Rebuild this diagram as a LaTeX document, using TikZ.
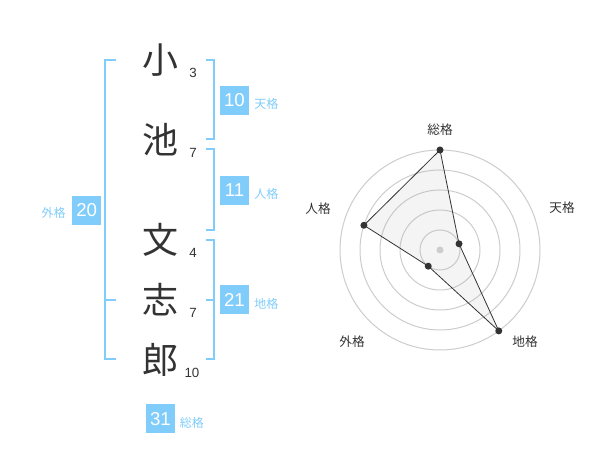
\documentclass[tikz,border=0pt]{standalone}
\usepackage{fontspec}
\setmainfont{Liberation Sans}
\newfontfamily\jp{Noto Sans CJK JP}
\usepackage{tikz}
\usetikzlibrary{positioning,calc}
\definecolor{kakublue}{HTML}{80CCFA}
\definecolor{ink}{HTML}{333333}
\tikzset{
  kanji/.style={inner sep=0pt,text=ink,font=\jp\fontsize{27}{27}\selectfont},
  strokes/.style={inner sep=0pt,text=ink,font=\fontsize{10}{10}\selectfont},
  kakubox/.style={fill=kakublue,text=white,inner sep=0pt,minimum size=21.75pt,font=\fontsize{14}{14}\selectfont},
  kakulabel/.style={inner sep=0pt,text=kakublue,font=\jp\fontsize{9}{9}\selectfont},
  bracket/.style={kakublue,line width=1.5pt},
  radarlabel/.style={inner sep=0pt,text=ink,font=\jp\fontsize{9.5}{9.5}\selectfont}
}
\begin{document}
\begin{tikzpicture}[x=0.75pt,y=0.75pt]
\useasboundingbox (0,0) rectangle (600,470);

% name
\node[kanji] (k1) at (160,410) {小};
\node[kanji] (k2) at (160,330) {池};
\node[kanji] (k3) at (160,230) {文};
\node[kanji] (k4) at (160,170) {志};
\node[kanji] (k5) at (160,110) {郎};
\node[strokes] (s1) at (193,397) {3};
\node[strokes] (s2) at (193,317) {7};
\node[strokes] (s3) at (193,217) {4};
\node[strokes] (s4) at (193,157) {7};
\node[strokes] (s5) at (192,97) {10};

% brackets
\draw[bracket] (116,410) -- (105,410) -- (105,111) -- (116,111);
\draw[bracket] (105,170) -- (116,170);
\draw[bracket] (206,410) -- (214,410) -- (214,331) -- (206,331);
\draw[bracket] (206,321) -- (214,321) -- (214,240) -- (206,240);
\draw[bracket] (206,230) -- (214,230) -- (214,111) -- (206,111);
\draw[bracket] (206,170) -- (214,170);

% kaku
\node[kakubox] (ten) at (234.5,369.5) {10};
\node[kakulabel,anchor=west] (tenl) at (254,366) {天格};
\node[kakubox] (jin) at (234.5,279.5) {11};
\node[kakulabel,anchor=west] (jinl) at (254,276) {人格};
\node[kakubox] (chi) at (234.5,170) {21};
\node[kakulabel,anchor=west] (chil) at (254,166) {地格};
\node[kakubox] (gai) at (86.7,259.5) {20};
\node[kakulabel,anchor=east] (gail) at (66,257) {外格};
\node[kakubox] (sou) at (160.5,51) {31};
\node[kakulabel,anchor=west] (soul) at (179.5,47) {総格};

% radar
\begin{scope}[shift={(440,220)}]
\foreach \r in {20,40,...,100}
  \draw[gray!40,line width=0.75pt] (0,0) circle (\r);
\fill[gray!35] (0,0) circle (3.5);
\coordinate (rs) at (90:100);
\coordinate (rt) at (18:20);
\coordinate (rc) at (-54:100);
\coordinate (rg) at (-126:20);
\coordinate (rj) at (162:80);
\filldraw[fill=gray!60,fill opacity=0.15,draw=ink,line width=0.6pt]
  (rs) -- (rt) -- (rc) -- (rg) -- (rj) -- cycle;
\foreach \p in {rs,rt,rc,rg,rj}
  \fill[ink] (\p) circle (3.5);
\end{scope}
\node[radarlabel] (lsou) at (440,340) {総格};
\node[radarlabel] (lten) at (562,262) {天格};
\node[radarlabel] (ljin) at (318,261) {人格};
\node[radarlabel] (lgai) at (352,128) {外格};
\node[radarlabel] (lchi) at (525,128) {地格};
\end{tikzpicture}
\end{document}
